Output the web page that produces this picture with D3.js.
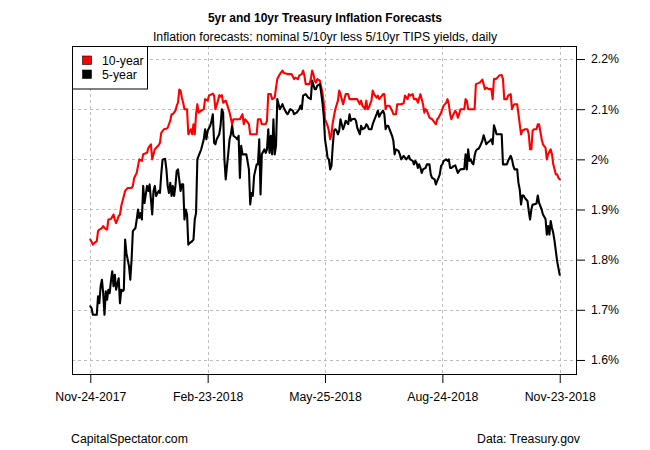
<!DOCTYPE html>
<html>
<head>
<meta charset="utf-8">
<script src="https://cdn.jsdelivr.net/npm/d3@7"></script>
<style>
  html, body { margin: 0; padding: 0; background: #fff; }
  svg { display: block; font-family: "Liberation Sans", Arial, Helvetica, sans-serif; }
</style>
</head>
<body>
<svg id="chart" width="650" height="450"></svg>
<script>
// ---------------- DATA ----------------
const startDate = "2017-11-24";
const seriesNames = ["10-year", "5-year"];
const seriesColors = ["#ff0000", "#000000"];

// calendar days since Nov-24-2017, and breakeven inflation (%)
const days10 = [0,2,4,5,6,7,9,10,11,13,14,16,18,19,20,22,23,24,26,27,29,32,33,34,36,37,38,40,41,44,45,47,48,49,50,51,53,54,55,57,59,60,62,63,64,66,67,68,69,70,71,72,73,75,76,78,79,80,81,82,83,84,86,88,89,91,92,95,96,97,99,100,101,102,103,105,106,108,110,111,116,118,119,120,121,123,124,129,130,132,133,136,137,138,140,141,143,144,145,147,149,150,153,156,158,159,161,162,164,165,166,167,170,171,172,173,174,175,176,178,180,181,182,184,185,186,187,188,189,190,192,193,194,196,197,198,200,201,207,209,210,211,213,214,215,216,218,219,220,222,223,224,225,227,228,229,230,232,234,235,237,238,241,243,244,246,247,248,250,251,253,254,256,258,259,260,261,263,265,267,268,269,270,272,273,274,276,277,278,279,280,281,283,284,285,286,287,289,290,291,292,293,298,299,301,302,304,305,306,307,309,311,312,313,315,317,319,320,321,323,324,326,327,328,329,331,332,333,334,335,337,339,340,341,342,343,344,346,347,348,350,351,353,354,355,357,358,359,361,362,363,364];
const tenYear = [1.84,1.83,1.835,1.837,1.857,1.86,1.863,1.867,1.863,1.86,1.88,1.881,1.89,1.88,1.873,1.887,1.89,1.907,1.927,1.937,1.943,1.943,1.947,1.963,1.973,1.987,2.0,1.997,2.01,2.013,2.023,2.03,2.0,2.01,2.02,2.023,2.028,2.033,2.053,2.06,2.061,2.063,2.077,2.09,2.09,2.097,2.107,2.113,2.139,2.137,2.123,2.113,2.1,2.1,2.05,2.06,2.05,2.07,2.05,2.09,2.11,2.093,2.097,2.1,2.12,2.117,2.127,2.131,2.127,2.1,2.117,2.128,2.125,2.128,2.113,2.117,2.11,2.093,2.07,2.08,2.08,2.09,2.07,2.08,2.077,2.07,2.05,2.05,2.08,2.08,2.07,2.07,2.077,2.13,2.13,2.12,2.123,2.143,2.16,2.17,2.177,2.172,2.17,2.17,2.16,2.163,2.16,2.167,2.17,2.177,2.167,2.15,2.15,2.16,2.177,2.17,2.157,2.153,2.16,2.157,2.133,2.113,2.08,2.067,2.057,2.04,2.05,2.073,2.087,2.1,2.117,2.137,2.13,2.11,2.12,2.13,2.13,2.12,2.12,2.11,2.117,2.107,2.1,2.117,2.1,2.103,2.117,2.137,2.13,2.123,2.127,2.12,2.123,2.13,2.13,2.1,2.107,2.107,2.097,2.09,2.09,2.11,2.11,2.112,2.127,2.12,2.13,2.127,2.13,2.12,2.12,2.113,2.13,2.11,2.093,2.1,2.097,2.083,2.08,2.073,2.07,2.08,2.083,2.093,2.1,2.107,2.113,2.12,2.11,2.09,2.08,2.087,2.097,2.093,2.083,2.09,2.1,2.1,2.1,2.12,2.117,2.1,2.1,2.15,2.152,2.153,2.159,2.15,2.14,2.143,2.14,2.14,2.12,2.16,2.161,2.167,2.168,2.16,2.12,2.12,2.127,2.13,2.1,2.107,2.11,2.11,2.09,2.07,2.05,2.057,2.06,2.06,2.05,2.02,2.02,2.057,2.06,2.06,2.07,2.07,2.04,2.03,2.023,2.0,2.01,2.02,2.01,1.99,1.97,1.97,1.963,1.96];

const days5 = [0,1,2,5,6,7,8,9,10,11,12,13,14,15,16,17,18,19,20,22,23,24,25,26,27,28,30,31,32,33,35,36,37,38,39,40,41,42,44,45,46,47,48,49,50,51,53,54,55,56,58,59,60,61,62,63,64,65,66,67,68,70,71,72,73,74,75,76,77,79,80,81,82,83,84,86,87,88,89,90,91,93,94,95,96,97,98,100,101,102,103,104,105,106,107,108,109,110,111,113,114,115,116,117,118,121,123,124,125,126,127,129,130,131,132,133,135,136,137,138,139,140,141,142,143,144,145,147,149,150,152,153,155,157,158,160,162,163,164,165,167,169,171,172,174,175,176,178,179,180,181,182,183,184,185,186,187,188,189,190,191,192,193,194,196,197,198,200,201,202,203,205,206,207,209,210,211,213,214,215,216,218,219,220,222,223,224,225,227,228,229,230,231,232,234,235,236,237,239,240,241,243,245,246,247,248,250,251,252,253,254,255,256,257,258,260,261,263,264,265,267,268,269,270,271,272,273,274,276,277,278,279,280,282,283,285,286,287,290,291,292,293,294,295,296,297,298,299,300,301,302,304,305,306,307,308,310,311,312,313,314,315,317,319,320,323,324,326,327,328,329,331,332,333,334,335,336,337,339,340,341,342,343,344,346,347,348,350,351,353,354,355,356,357,358,359,360,361,362,363,364];
const fiveYear = [1.707,1.703,1.69,1.69,1.727,1.713,1.747,1.76,1.733,1.69,1.737,1.72,1.74,1.733,1.757,1.777,1.747,1.77,1.74,1.763,1.713,1.74,1.737,1.74,1.84,1.813,1.787,1.76,1.8,1.857,1.863,1.88,1.9,1.883,1.893,1.88,1.947,1.913,1.947,1.937,1.95,1.92,1.89,1.937,1.947,1.927,1.937,1.933,1.97,1.999,2.001,1.98,1.947,1.933,1.953,1.927,1.947,1.927,1.947,1.977,1.98,1.937,1.95,1.95,1.88,1.9,1.89,1.83,1.833,1.837,1.84,1.88,1.893,2.0,2.007,2.02,2.03,2.04,2.06,2.04,2.057,2.067,2.077,2.09,2.033,2.03,2.04,2.05,2.067,2.1,2.093,2.0,1.96,1.987,2.013,2.04,2.05,2.067,2.047,2.043,2.04,2.047,1.963,2.027,2.01,2.01,1.98,1.91,1.933,1.927,1.967,1.99,1.99,2.04,1.93,2.01,2.02,2.013,2.02,2.06,2.013,2.047,2.01,2.08,2.01,2.027,2.12,2.1,2.11,2.103,2.093,2.09,2.1,2.097,2.09,2.093,2.1,2.107,2.1,2.127,2.13,2.123,2.12,2.157,2.14,2.14,2.147,2.15,2.133,2.113,2.087,2.04,2.023,2.003,2.0,1.98,1.987,2.027,2.057,2.06,2.057,2.05,2.057,2.08,2.06,2.067,2.077,2.07,2.09,2.077,2.08,2.081,2.077,2.063,2.05,2.067,2.06,2.063,2.07,2.067,2.06,2.06,2.07,2.077,2.09,2.097,2.085,2.09,2.097,2.09,2.06,2.067,2.067,2.06,2.047,2.037,2.01,2.02,2.017,2.01,2.0,2.007,2.0,2.003,2.007,2.0,1.997,1.99,1.997,1.993,1.983,1.99,1.983,1.973,1.98,1.983,1.99,1.99,1.97,1.963,1.96,1.95,1.957,1.963,1.97,1.987,1.99,1.997,2.0,1.997,2.0,1.983,1.983,1.987,1.988,1.973,1.977,1.98,1.981,2.01,1.98,2.02,1.997,2.0,1.993,1.99,2.007,2.017,2.02,2.021,2.025,2.037,2.048,2.04,2.03,2.033,2.037,2.04,2.03,2.068,2.06,2.05,2.05,2.05,1.99,1.99,1.997,2.007,2.0,1.987,1.98,1.98,1.953,1.94,1.91,1.928,1.928,1.923,1.917,1.897,1.88,1.9,1.91,1.91,1.912,1.928,1.913,1.9,1.89,1.881,1.85,1.867,1.85,1.877,1.863,1.853,1.837,1.817,1.797,1.783,1.77];

const xTickDates = ["2017-11-24","2018-02-23","2018-05-25","2018-08-24","2018-11-23"];
const xTickLabels = ["Nov-24-2017","Feb-23-2018","May-25-2018","Aug-24-2018","Nov-23-2018"];
const yTicks = [1.6,1.7,1.8,1.9,2.0,2.1,2.2];
const yTickLabels = ["1.6%","1.7%","1.8%","1.9%","2%","2.1%","2.2%"];

const titleText = "5yr and 10yr Treasury Inflation Forecasts";
const subtitleText = "Inflation forecasts: nominal 5/10yr less 5/10yr TIPS yields, daily";
const leftNote = "CapitalSpectator.com";
const rightNote = "Data: Treasury.gov";

// ---------------- CHART ----------------
const parse = d3.utcParse("%Y-%m-%d");
const t0 = parse(startDate);
const toDate = d => d3.utcDay.offset(t0, d);

const svg = d3.select("#chart");
const L = 72, R = 577, T = 46, B = 375;

const x = d3.scaleUtc()
  .domain([new Date(t0.getTime() - 14.2 * 864e5), new Date(t0.getTime() + 377.4 * 864e5)])
  .range([L, R]);
const y = d3.scaleLinear().domain([1.57, 2.226]).range([B, T]);

const font = '"Liberation Sans", Arial, Helvetica, sans-serif';
const fs = "12.3px";

// grid
const grid = svg.append("g").attr("stroke", "#bebebe").attr("stroke-width", 1).attr("stroke-dasharray", "3,3");
grid.selectAll("line.v").data(xTickDates).join("line")
  .attr("x1", d => Math.round(x(parse(d))) + 0.5).attr("x2", d => Math.round(x(parse(d))) + 0.5)
  .attr("y1", T).attr("y2", B);
grid.selectAll("line.h").data(yTicks).join("line")
  .attr("y1", d => Math.round(y(d)) + 0.5).attr("y2", d => Math.round(y(d)) + 0.5)
  .attr("x1", L).attr("x2", R);

// clip
svg.append("clipPath").attr("id", "clip").append("rect")
  .attr("x", L).attr("y", T).attr("width", R - L).attr("height", B - T);

const line = d3.line().x(d => x(d[0])).y(d => y(d[1]));
const s10 = days10.map((d, i) => [toDate(d), tenYear[i]]);
const s5 = days5.map((d, i) => [toDate(d), fiveYear[i]]);

const lines = svg.append("g").attr("clip-path", "url(#clip)");
lines.append("path").datum(s10).attr("d", line)
  .attr("fill", "none").attr("stroke", seriesColors[0]).attr("stroke-width", 2.1)
  .attr("stroke-linejoin", "round").attr("stroke-linecap", "round");
lines.append("path").datum(s5).attr("d", line)
  .attr("fill", "none").attr("stroke", seriesColors[1]).attr("stroke-width", 2.1)
  .attr("stroke-linejoin", "round").attr("stroke-linecap", "round");

// box
svg.append("rect").attr("x", L + 0.5).attr("y", T + 0.5)
  .attr("width", R - L - 1).attr("height", B - T - 1)
  .attr("fill", "none").attr("stroke", "#000").attr("stroke-width", 1);

// x axis
const xAxis = d3.axisBottom(x)
  .tickValues(xTickDates.map(parse))
  .tickFormat((d, i) => xTickLabels[i])
  .tickSize(8).tickPadding(0);
const gx = svg.append("g").attr("transform", `translate(0,${B})`).call(xAxis);
gx.select(".domain").remove();
gx.selectAll(".tick line").attr("stroke", "#000");
gx.selectAll(".tick text").attr("y", 26).attr("dy", 0)
  .attr("fill", "#000").style("font-family", font).style("font-size", fs);

// y axis (right)
const yAxis = d3.axisRight(y)
  .tickValues(yTicks)
  .tickFormat((d, i) => yTickLabels[i])
  .tickSize(8).tickPadding(6);
const gy = svg.append("g").attr("transform", `translate(${R},0)`).call(yAxis);
gy.select(".domain").remove();
gy.selectAll(".tick line").attr("stroke", "#000");
gy.selectAll(".tick text").attr("fill", "#000").style("font-family", font).style("font-size", fs);

// titles
svg.append("text").attr("x", 325).attr("y", 22).attr("text-anchor", "middle")
  .style("font-family", font).style("font-size", "12px").style("font-weight", "bold")
  .text(titleText);
svg.append("text").attr("x", 325).attr("y", 41).attr("text-anchor", "middle")
  .style("font-family", font).style("font-size", fs)
  .text(subtitleText);

// legend
const lg = svg.append("g");
lg.append("rect").attr("x", L + 0.5).attr("y", T + 0.5).attr("width", 75).attr("height", 42.5)
  .attr("fill", "#fff").attr("stroke", "#000");
seriesNames.forEach((name, i) => {
  const cy = 60.5 + i * 14;
  lg.append("rect").attr("x", 82.5).attr("y", cy - 4.5).attr("width", 9).attr("height", 8.5)
    .attr("fill", seriesColors[i]).attr("stroke", "#000").attr("stroke-width", 0.6);
  lg.append("text").attr("x", 102).attr("y", cy + 4.5)
    .style("font-family", font).style("font-size", fs).text(name);
});

// footer notes
svg.append("text").attr("x", 71).attr("y", 443)
  .style("font-family", font).style("font-size", fs).text(leftNote);
svg.append("text").attr("x", 580).attr("y", 443).attr("text-anchor", "end")
  .style("font-family", font).style("font-size", fs).text(rightNote);
</script>
</body>
</html>
